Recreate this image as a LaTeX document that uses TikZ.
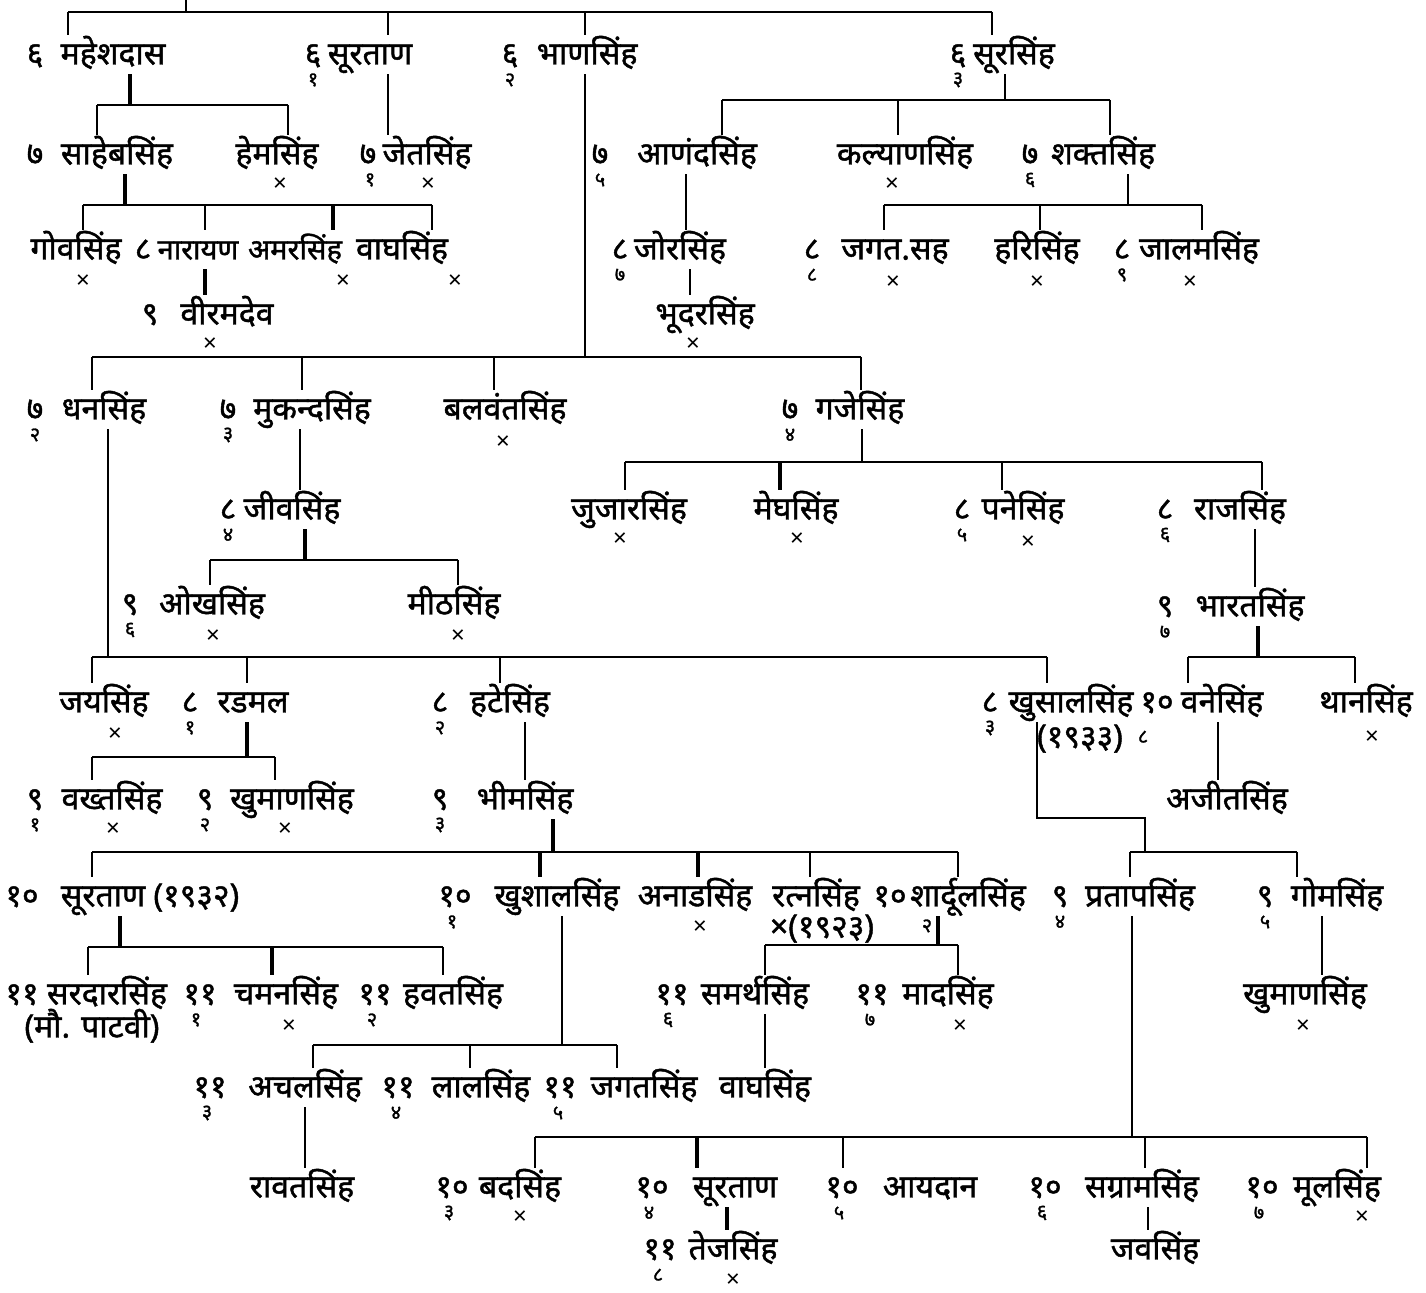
\documentclass[tikz,border=0pt]{standalone}
\usepackage{fontspec}
\newfontfamily\dev[Script=Devanagari,FakeBold=1.3]{Noto Sans}
\newfontfamily\devx[Script=Devanagari]{Noto Sans}
\tikzset{
  nm/.style={font=\dev\fontsize{16}{18}\selectfont, inner sep=0pt, outer sep=3pt, text height=11.5pt, text depth=2pt},
  nms/.style={nm, font=\dev\fontsize{14.5}{16}\selectfont},
  gn/.style={nm, outer sep=0pt},
  sb/.style={font=\dev\fontsize{10}{11}\selectfont, inner sep=0pt},
  dd/.style={font=\devx\fontsize{12}{12}\selectfont, inner sep=0pt},
  ln/.style={line width=0.85pt},
  lnb/.style={line width=1.6pt}
}
\begin{document}
\begin{tikzpicture}[x=0.5pt, y=-0.5pt]
  \useasboundingbox (0,0) rectangle (1426,1293);

  % generation 6
  \node[gn] (mahesh-n) at (35,55) {६};
  \node[nm] (mahesh) at (113,55) {महेशदास};
  \node[gn] (suratan-n) at (313,55) {६};
  \node[sb] (suratan-s) at (313,80) {१};
  \node[nm] (suratan) at (370,55) {सूरताण};
  \node[gn] (bhan-n) at (510,55) {६};
  \node[sb] (bhan-s) at (510,80) {२};
  \node[nm] (bhan) at (587,55) {भाणसिंह};
  \node[gn] (sur-n) at (958,55) {६};
  \node[sb] (sur-s) at (958,80) {३};
  \node[nm] (sur) at (1014,55) {सूरसिंह};

  \draw[ln] (186,0) -- (186,12);
  \draw[ln] (68,12) -- (992,12);
  \draw[ln] (68,12) -- (68,0 |- mahesh.north);
  \draw[ln] (388,12) -- (388,0 |- suratan.north);
  \draw[ln] (585,12) -- (585,0 |- bhan.north);
  \draw[ln] (992,12) -- (992,0 |- sur.north);

  % generation 7, upper
  \node[gn] (saheb-n) at (35,155) {७};
  \node[nm] (saheb) at (117,155) {साहेबसिंह};
  \node[nm] (hem) at (277,155) {हेमसिंह};
  \node[dd] (hem-x) at (280,185) {×};
  \node[gn] (jet-n) at (368,155) {७};
  \node[sb] (jet-s) at (370,180) {१};
  \node[nm] (jet) at (427,155) {जेतसिंह};
  \node[dd] (jet-x) at (428,185) {×};
  \node[gn] (anand-n) at (600,155) {७};
  \node[sb] (anand-s) at (600,180) {५};
  \node[nm] (anand) at (697,155) {आणंदसिंह};
  \node[nm] (kalyan) at (905,155) {कल्याणसिंह};
  \node[dd] (kalyan-x) at (892,185) {×};
  \node[gn] (shakt-n) at (1030,155) {७};
  \node[sb] (shakt-s) at (1030,180) {६};
  \node[nm] (shakt) at (1103,155) {शक्तसिंह};

  \draw[lnb] (130,0 |- mahesh.south) -- (130,105);
  \draw[ln] (97,105) -- (288,105);
  \draw[ln] (97,105) -- (97,0 |- saheb.north);
  \draw[ln] (288,105) -- (288,0 |- hem.north);
  \draw[ln] (388,0 |- suratan.south) -- (388,0 |- jet.north);
  \draw[ln] (1005,0 |- sur.south) -- (1005,100);
  \draw[ln] (722,100) -- (1110,100);
  \draw[ln] (722,100) -- (722,0 |- anand.north);
  \draw[ln] (898,100) -- (898,0 |- kalyan.north);
  \draw[ln] (1110,100) -- (1110,0 |- shakt.north);

  % generation 8, upper
  \node[nm] (gov) at (76,250) {गोवसिंह};
  \node[dd] (gov-x) at (83,282) {×};
  \node[gn] (narayan-n) at (143,250) {८};
  \node[nms] (narayan) at (198,250) {नारायण};
  \node[nms] (amar) at (295,250) {अमरसिंह};
  \node[dd] (amar-x) at (343,282) {×};
  \node[nm] (bagh) at (402,250) {वाघसिंह};
  \node[dd] (bagh-x) at (455,282) {×};
  \node[gn] (viram-n) at (150,315) {९};
  \node[nm] (viram) at (227,315) {वीरमदेव};
  \node[dd] (viram-x) at (210,345) {×};
  \node[gn] (jor-n) at (620,250) {८};
  \node[sb] (jor-s) at (620,275) {७};
  \node[nm] (jor) at (680,250) {जोरसिंह};
  \node[nm] (bhudar) at (705,315) {भूदरसिंह};
  \node[dd] (bhudar-x) at (693,345) {×};
  \node[gn] (jagat-n) at (812,250) {८};
  \node[sb] (jagat-s) at (812,275) {८};
  \node[nm] (jagat) at (895,250) {जगत.सह};
  \node[dd] (jagat-x) at (893,283) {×};
  \node[nm] (hari) at (1037,250) {हरिसिंह};
  \node[dd] (hari-x) at (1037,283) {×};
  \node[gn] (jalam-n) at (1122,250) {८};
  \node[sb] (jalam-s) at (1122,275) {९};
  \node[nm] (jalam) at (1199,250) {जालमसिंह};
  \node[dd] (jalam-x) at (1190,283) {×};

  \draw[lnb] (125,0 |- saheb.south) -- (125,205);
  \draw[ln] (83,205) -- (432,205);
  \draw[ln] (83,205) -- (83,0 |- gov.north);
  \draw[ln] (205,205) -- (205,0 |- narayan.north);
  \draw[lnb] (333,205) -- (333,0 |- amar.north);
  \draw[ln] (432,205) -- (432,0 |- bagh.north);
  \draw[lnb] (205,0 |- narayan.south) -- (205,0 |- viram.north);
  \draw[ln] (686,0 |- anand.south) -- (686,0 |- jor.north);
  \draw[ln] (690,0 |- jor.south) -- (690,0 |- bhudar.north);
  \draw[ln] (1128,0 |- shakt.south) -- (1128,205);
  \draw[ln] (884,205) -- (1202,205);
  \draw[ln] (884,205) -- (884,0 |- jagat.north);
  \draw[ln] (1040,205) -- (1040,0 |- hari.north);
  \draw[ln] (1202,205) -- (1202,0 |- jalam.north);

  % generation 7, lower
  \node[gn] (dhan-n) at (35,410) {७};
  \node[sb] (dhan-s) at (35,435) {२};
  \node[nm] (dhan) at (104,410) {धनसिंह};
  \node[gn] (mukand-n) at (228,410) {७};
  \node[sb] (mukand-s) at (228,435) {३};
  \node[nm] (mukand) at (312,410) {मुकन्दसिंह};
  \node[nm] (balvant) at (505,410) {बलवंतसिंह};
  \node[dd] (balvant-x) at (503,443) {×};
  \node[gn] (gaje-n) at (790,410) {७};
  \node[sb] (gaje-s) at (790,435) {४};
  \node[nm] (gaje) at (860,410) {गजेसिंह};

  \draw[ln] (585,0 |- bhan.south) -- (585,357);
  \draw[ln] (92,357) -- (861,357);
  \draw[ln] (92,357) -- (92,0 |- dhan.north);
  \draw[ln] (302,357) -- (302,0 |- mukand.north);
  \draw[ln] (494,357) -- (494,0 |- balvant.north);
  \draw[ln] (861,357) -- (861,0 |- gaje.north);

  % generation 8 and 9, middle
  \node[gn] (jiv-n) at (228,510) {८};
  \node[sb] (jiv-s) at (228,535) {४};
  \node[nm] (jiv) at (292,510) {जीवसिंह};
  \node[gn] (okh-n) at (130,605) {९};
  \node[sb] (okh-s) at (130,630) {६};
  \node[nm] (okh) at (212,605) {ओखसिंह};
  \node[dd] (okh-x) at (213,637) {×};
  \node[nm] (mith) at (454,605) {मीठसिंह};
  \node[dd] (mith-x) at (458,637) {×};
  \node[nm] (jujar) at (629,510) {जुजारसिंह};
  \node[dd] (jujar-x) at (620,540) {×};
  \node[nm] (megh) at (796,510) {मेघसिंह};
  \node[dd] (megh-x) at (797,540) {×};
  \node[gn] (pane-n) at (962,510) {८};
  \node[sb] (pane-s) at (962,535) {५};
  \node[nm] (pane) at (1023,510) {पनेसिंह};
  \node[dd] (pane-x) at (1028,543) {×};
  \node[gn] (raj-n) at (1165,510) {८};
  \node[sb] (raj-s) at (1165,535) {६};
  \node[nm] (raj) at (1240,510) {राजसिंह};
  \node[gn] (bharat-n) at (1165,607) {९};
  \node[sb] (bharat-s) at (1165,632) {७};
  \node[nm] (bharat) at (1250,607) {भारतसिंह};

  \draw[ln] (300,0 |- mukand.south) -- (300,0 |- jiv.north);
  \draw[lnb] (305,0 |- jiv.south) -- (305,560);
  \draw[ln] (210,560) -- (458,560);
  \draw[ln] (210,560) -- (210,0 |- okh.north);
  \draw[ln] (458,560) -- (458,0 |- mith.north);
  \draw[ln] (862,0 |- gaje.south) -- (862,462);
  \draw[ln] (625,462) -- (1262,462);
  \draw[ln] (625,462) -- (625,0 |- jujar.north);
  \draw[lnb] (780,462) -- (780,0 |- megh.north);
  \draw[ln] (1002,462) -- (1002,0 |- pane.north);
  \draw[ln] (1262,462) -- (1262,0 |- raj.north);
  \draw[ln] (1255,0 |- raj.south) -- (1255,0 |- bharat.north);

  % generation 8, lower
  \node[nm] (jay) at (104,703) {जयसिंह};
  \node[dd] (jay-x) at (115,735) {×};
  \node[gn] (radmal-n) at (190,703) {८};
  \node[sb] (radmal-s) at (190,728) {१};
  \node[nm] (radmal) at (253,703) {रडमल};
  \node[gn] (hate-n) at (440,703) {८};
  \node[sb] (hate-s) at (440,728) {२};
  \node[nm] (hate) at (510,703) {हटेसिंह};
  \node[gn] (khusal-n) at (990,703) {८};
  \node[sb] (khusal-s) at (990,728) {३};
  \node[nm] (khusal) at (1071,703) {खुसालसिंह};
  \node[nm] (khusal-d) at (1080,738) {(१९३३)};
  \node[gn] (bane-n) at (1157,703) {१०};
  \node[sb] (bane-s) at (1143,737) {८};
  \node[nm] (bane) at (1222,703) {वनेसिंह};
  \node[nm] (than) at (1366,703) {थानसिंह};
  \node[dd] (than-x) at (1372,738) {×};
  \node[nm] (ajit) at (1227,800) {अजीतसिंह};

  \draw[ln] (108,0 |- dhan.south) -- (108,657);
  \draw[ln] (92,657) -- (1047,657);
  \draw[ln] (92,657) -- (92,0 |- jay.north);
  \draw[ln] (247,657) -- (247,0 |- radmal.north);
  \draw[ln] (500,657) -- (500,0 |- hate.north);
  \draw[ln] (1047,657) -- (1047,0 |- khusal.north);
  \draw[lnb] (1258,0 |- bharat.south) -- (1258,657);
  \draw[ln] (1188,657) -- (1355,657);
  \draw[ln] (1188,657) -- (1188,0 |- bane.north);
  \draw[ln] (1355,657) -- (1355,0 |- than.north);
  \draw[ln] (1218,0 |- bane.south) -- (1218,0 |- ajit.north);

  % generation 9
  \node[gn] (bakht-n) at (35,800) {९};
  \node[sb] (bakht-s) at (35,825) {१};
  \node[nm] (bakht) at (112,800) {वख्तसिंह};
  \node[dd] (bakht-x) at (113,830) {×};
  \node[gn] (khuman-n) at (205,800) {९};
  \node[sb] (khuman-s) at (205,825) {२};
  \node[nm] (khuman) at (292,800) {खुमाणसिंह};
  \node[dd] (khuman-x) at (285,830) {×};
  \node[gn] (bhim-n) at (440,800) {९};
  \node[sb] (bhim-s) at (440,825) {३};
  \node[nm] (bhim) at (525,800) {भीमसिंह};

  \draw[lnb] (247,0 |- radmal.south) -- (247,757);
  \draw[ln] (92,757) -- (275,757);
  \draw[ln] (92,757) -- (92,0 |- bakht.north);
  \draw[ln] (275,757) -- (275,0 |- khuman.north);
  \draw[ln] (525,0 |- hate.south) -- (525,0 |- bhim.north);

  % generation 10
  \node[gn] (suratanB-n) at (22,897) {१०};
  \node[nm] (suratanB) at (150,897) {सूरताण (१९३२)};
  \node[gn] (khushal-n) at (455,897) {१०};
  \node[sb] (khushal-s) at (452,922) {१};
  \node[nm] (khushal) at (557,897) {खुशालसिंह};
  \node[nm] (anad) at (695,897) {अनाडसिंह};
  \node[dd] (anad-x) at (700,928) {×};
  \node[nm] (ratan) at (816,897) {रत्नसिंह};
  \node[nm] (ratan-d) at (822,928) {×(१९२३)};
  \node[gn] (shardul-n) at (890,897) {१०};
  \node[sb] (shardul-s) at (927,926) {२};
  \node[nm] (shardul) at (968,897) {शार्दूलसिंह};
  \node[gn] (pratap-n) at (1060,897) {९};
  \node[sb] (pratap-s) at (1060,922) {४};
  \node[nm] (pratap) at (1140,897) {प्रतापसिंह};
  \node[gn] (gom-n) at (1265,897) {९};
  \node[sb] (gom-s) at (1265,922) {५};
  \node[nm] (gom) at (1337,897) {गोमसिंह};
  \node[nm] (khumanB) at (1305,995) {खुमाणसिंह};
  \node[dd] (khumanB-x) at (1303,1027) {×};

  \draw[lnb] (553,0 |- bhim.south) -- (553,852);
  \draw[ln] (92,852) -- (958,852);
  \draw[ln] (92,852) -- (92,0 |- suratanB.north);
  \draw[lnb] (540,852) -- (540,0 |- khushal.north);
  \draw[lnb] (698,852) -- (698,0 |- anad.north);
  \draw[ln] (810,852) -- (810,0 |- ratan.north);
  \draw[ln] (958,852) -- (958,0 |- shardul.north);
  \draw[ln] (1037,0 |- khusal.south) -- (1037,818) -- (1145,818) -- (1145,852);
  \draw[ln] (1130,852) -- (1297,852);
  \draw[ln] (1130,852) -- (1130,0 |- pratap.north);
  \draw[ln] (1297,852) -- (1297,0 |- gom.north);
  \draw[ln] (1322,0 |- gom.south) -- (1322,0 |- khumanB.north);

  % generation 11
  \node[gn] (sardar-n) at (22,995) {११};
  \node[nm] (sardar) at (107,995) {सरदारसिंह};
  \node[nm] (sardar-d) at (92,1028) {(मौ. पाटवी)};
  \node[gn] (chaman-n) at (200,995) {११};
  \node[sb] (chaman-s) at (196,1020) {१};
  \node[nm] (chaman) at (286,995) {चमनसिंह};
  \node[dd] (chaman-x) at (289,1027) {×};
  \node[gn] (havat-n) at (375,995) {११};
  \node[sb] (havat-s) at (372,1020) {२};
  \node[nm] (havat) at (453,995) {हवतसिंह};
  \node[gn] (samarth-n) at (672,995) {११};
  \node[sb] (samarth-s) at (668,1020) {६};
  \node[nm] (samarth) at (755,995) {समर्थसिंह};
  \node[gn] (mad-n) at (872,995) {११};
  \node[sb] (mad-s) at (870,1020) {७};
  \node[nm] (mad) at (948,995) {मादसिंह};
  \node[dd] (mad-x) at (960,1027) {×};

  \draw[lnb] (120,0 |- suratanB.south) -- (120,947);
  \draw[ln] (88,947) -- (443,947);
  \draw[ln] (88,947) -- (88,0 |- sardar.north);
  \draw[lnb] (272,947) -- (272,0 |- chaman.north);
  \draw[ln] (443,947) -- (443,0 |- havat.north);
  \draw[lnb] (938,0 |- shardul.south) -- (938,945);
  \draw[ln] (765,945) -- (958,945);
  \draw[ln] (765,945) -- (765,0 |- samarth.north);
  \draw[ln] (958,945) -- (958,0 |- mad.north);

  \node[gn] (achal-n) at (210,1088) {११};
  \node[sb] (achal-s) at (207,1113) {३};
  \node[nm] (achal) at (305,1088) {अचलसिंह};
  \node[gn] (lal-n) at (398,1088) {११};
  \node[sb] (lal-s) at (396,1113) {४};
  \node[nm] (lal) at (481,1088) {लालसिंह};
  \node[gn] (jagatB-n) at (560,1088) {११};
  \node[sb] (jagatB-s) at (558,1113) {५};
  \node[nm] (jagatB) at (644,1088) {जगतसिंह};
  \node[nm] (baghB) at (765,1088) {वाघसिंह};
  \node[nm] (ravat) at (302,1188) {रावतसिंह};

  \draw[ln] (562,0 |- khushal.south) -- (562,1045);
  \draw[ln] (313,1045) -- (617,1045);
  \draw[ln] (313,1045) -- (313,0 |- achal.north);
  \draw[ln] (470,1045) -- (470,0 |- lal.north);
  \draw[ln] (617,1045) -- (617,0 |- jagatB.north);
  \draw[ln] (765,0 |- samarth.south) -- (765,0 |- baghB.north);
  \draw[ln] (305,0 |- achal.south) -- (305,0 |- ravat.north);

  % generation 10, sons of pratapsingh
  \node[gn] (bad-n) at (452,1188) {१०};
  \node[sb] (bad-s) at (449,1213) {३};
  \node[nm] (bad) at (520,1188) {बदसिंह};
  \node[dd] (bad-x) at (520,1218) {×};
  \node[gn] (suratanC-n) at (652,1188) {१०};
  \node[sb] (suratanC-s) at (649,1213) {४};
  \node[nm] (suratanC) at (735,1188) {सूरताण};
  \node[gn] (tej-n) at (660,1250) {११};
  \node[sb] (tej-s) at (658,1275) {८};
  \node[nm] (tej) at (733,1250) {तेजसिंह};
  \node[dd] (tej-x) at (733,1281) {×};
  \node[gn] (aydan-n) at (842,1188) {१०};
  \node[sb] (aydan-s) at (839,1213) {५};
  \node[nm] (aydan) at (930,1188) {आयदान};
  \node[gn] (sangram-n) at (1045,1188) {१०};
  \node[sb] (sangram-s) at (1042,1213) {६};
  \node[nm] (sangram) at (1142,1188) {सग्रामसिंह};
  \node[nm] (jav) at (1155,1250) {जवसिंह};
  \node[gn] (mul-n) at (1262,1188) {१०};
  \node[sb] (mul-s) at (1259,1213) {७};
  \node[nm] (mul) at (1337,1188) {मूलसिंह};
  \node[dd] (mul-x) at (1362,1218) {×};

  \draw[ln] (1132,0 |- pratap.south) -- (1132,1137);
  \draw[ln] (535,1137) -- (1367,1137);
  \draw[ln] (535,1137) -- (535,0 |- bad.north);
  \draw[lnb] (697,1137) -- (697,0 |- suratanC.north);
  \draw[ln] (843,1137) -- (843,0 |- aydan.north);
  \draw[ln] (1145,1137) -- (1145,0 |- sangram.north);
  \draw[ln] (1367,1137) -- (1367,0 |- mul.north);
  \draw[lnb] (727,0 |- suratanC.south) -- (727,0 |- tej.north);
  \draw[ln] (1148,0 |- sangram.south) -- (1148,0 |- jav.north);
\end{tikzpicture}
\end{document}
